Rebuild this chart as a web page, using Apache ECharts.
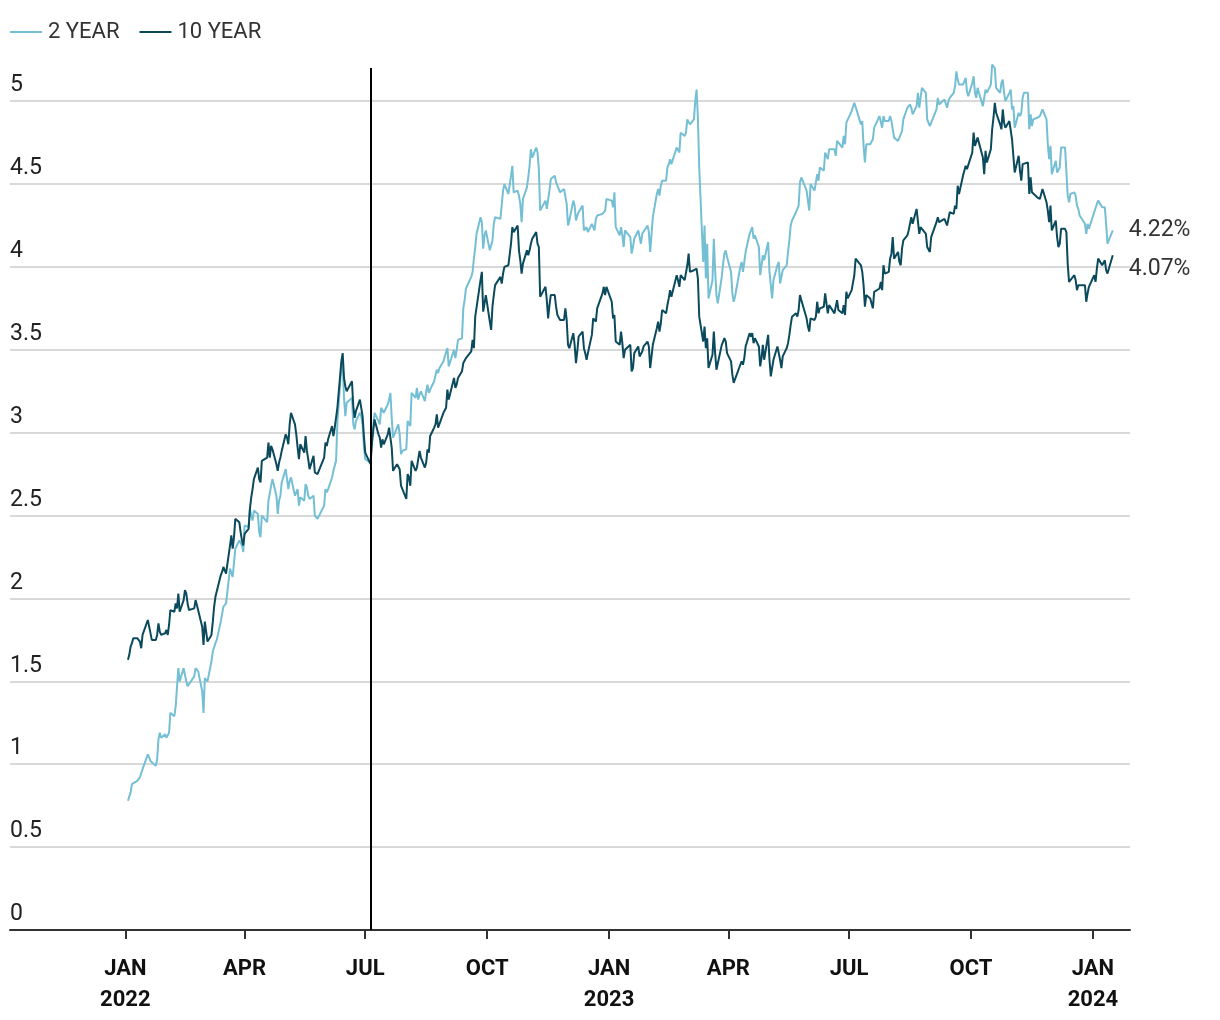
<!DOCTYPE html>
<html>
<head>
<meta charset="utf-8">
<script src="https://cdn.jsdelivr.net/npm/echarts@6/dist/echarts.min.js"></script>
<style>
html,body{margin:0;padding:0;background:#ffffff;}
#chart{width:1220px;height:1020px;}
</style>
</head>
<body>
<div id="chart"></div>
<script>
// ---------------- DATA ----------------
const seriesNames = ['2 YEAR', '10 YEAR'];

const months = [
  '2022-01','2022-02','2022-03','2022-04','2022-05','2022-06','2022-07','2022-08','2022-09','2022-10','2022-11','2022-12',
  '2023-01','2023-02','2023-03','2023-04','2023-05','2023-06','2023-07','2023-08','2023-09','2023-10','2023-11','2023-12',
  '2024-01'
];

const tradingDays = [
  [3,4,5,6,7,10,11,12,13,14,18,19,20,21,24,25,26,27,28,31],
  [1,2,3,4,7,8,9,10,11,14,15,16,17,18,22,23,24,25,28],
  [1,2,3,4,7,8,9,10,11,14,15,16,17,18,21,22,23,24,25,28,29,30,31],
  [1,4,5,6,7,8,11,12,13,14,18,19,20,21,22,25,26,27,28,29],
  [2,3,4,5,6,9,10,11,12,13,16,17,18,19,20,23,24,25,26,27,31],
  [1,2,3,6,7,8,9,10,13,14,15,16,17,21,22,23,24,27,28,29,30],
  [1,5,6,7,8,11,12,13,14,15,18,19,20,21,22,25,26,27,28,29],
  [1,2,3,4,5,8,9,10,11,12,15,16,17,18,19,22,23,24,25,26,29,30,31],
  [1,2,6,7,8,9,12,13,14,15,16,19,20,21,22,23,26,27,28,29,30],
  [3,4,5,6,7,11,12,13,14,17,18,19,20,21,24,25,26,27,28,31],
  [1,2,3,4,7,8,9,10,14,15,16,17,18,21,22,23,25,28,29,30],
  [1,2,5,6,7,8,9,12,13,14,15,16,19,20,21,22,23,27,28,29,30],
  [3,4,5,6,9,10,11,12,13,17,18,19,20,23,24,25,26,27,30,31],
  [1,2,3,6,7,8,9,10,13,14,15,16,17,21,22,23,24,27,28],
  [1,2,3,6,7,8,9,10,13,14,15,16,17,20,21,22,23,24,27,28,29,30,31],
  [3,4,5,6,10,11,12,13,14,17,18,19,20,21,24,25,26,27,28],
  [1,2,3,4,5,8,9,10,11,12,15,16,17,18,19,22,23,24,25,26,30,31],
  [1,2,5,6,7,8,9,12,13,14,15,16,20,21,22,23,26,27,28,29,30],
  [3,5,6,7,10,11,12,13,14,17,18,19,20,21,24,25,26,27,28,31],
  [1,2,3,4,7,8,9,10,11,14,15,16,17,18,21,22,23,24,25,28,29,30,31],
  [1,5,6,7,8,11,12,13,14,15,18,19,20,21,22,25,26,27,28,29],
  [2,3,4,5,6,10,11,12,13,16,17,18,19,20,23,24,25,26,27,30,31],
  [1,2,3,6,7,8,9,10,13,14,15,16,17,20,21,22,24,27,28,29,30],
  [1,4,5,6,7,8,11,12,13,14,15,18,19,20,21,22,26,27,28,29],
  [2,3,4,5,8,9,10,11,12,16]
];

const twoYear = [
  [0.78,0.77,0.83,0.88,0.87,0.90,0.90,0.92,0.91,0.97,1.06,1.04,1.02,1.01,0.99,1.03,1.15,1.19,1.16,1.18],
  [1.16,1.15,1.19,1.31,1.29,1.35,1.34,1.58,1.50,1.58,1.58,1.50,1.47,1.47,1.53,1.58,1.57,1.56,1.44],
  [1.31,1.52,1.52,1.50,1.62,1.68,1.69,1.73,1.75,1.86,1.85,1.95,1.94,1.97,2.18,2.17,2.13,2.14,2.30,2.35,2.35,2.32,2.28],
  [2.44,2.43,2.54,2.50,2.47,2.53,2.51,2.40,2.37,2.50,2.46,2.59,2.58,2.68,2.72,2.62,2.51,2.59,2.62,2.70],
  [2.78,2.78,2.66,2.71,2.73,2.62,2.63,2.66,2.56,2.61,2.59,2.69,2.67,2.62,2.60,2.62,2.50,2.50,2.48,2.47,2.56],
  [2.66,2.64,2.66,2.73,2.77,2.80,2.83,3.06,3.40,3.43,3.21,3.10,3.18,3.21,3.05,3.02,3.07,3.12,3.10,3.05,2.92],
  [2.84,2.82,2.97,3.03,3.12,3.07,3.05,3.15,3.14,3.12,3.17,3.20,3.24,3.09,2.97,3.03,3.05,2.99,2.87,2.89],
  [2.90,3.07,3.08,3.04,3.24,3.21,3.27,3.20,3.23,3.25,3.19,3.25,3.29,3.24,3.26,3.31,3.31,3.38,3.36,3.39,3.43,3.46,3.45],
  [3.51,3.40,3.50,3.45,3.50,3.56,3.57,3.75,3.80,3.87,3.87,3.94,3.97,4.05,4.12,4.20,4.30,4.27,4.11,4.19,4.22],
  [4.10,4.09,4.16,4.26,4.30,4.29,4.28,4.46,4.50,4.44,4.43,4.55,4.61,4.45,4.46,4.43,4.38,4.27,4.41,4.48],
  [4.54,4.61,4.71,4.66,4.72,4.69,4.59,4.34,4.40,4.35,4.36,4.46,4.53,4.55,4.51,4.49,4.45,4.47,4.48,4.38],
  [4.25,4.28,4.40,4.37,4.28,4.31,4.33,4.37,4.22,4.23,4.24,4.21,4.26,4.26,4.22,4.29,4.31,4.32,4.31,4.34,4.41],
  [4.40,4.36,4.45,4.24,4.19,4.24,4.19,4.12,4.22,4.18,4.08,4.12,4.17,4.22,4.18,4.14,4.20,4.21,4.25,4.21],
  [4.09,4.10,4.30,4.44,4.47,4.43,4.49,4.52,4.52,4.60,4.62,4.65,4.62,4.72,4.73,4.69,4.81,4.79,4.81],
  [4.89,4.89,4.86,4.89,5.00,5.07,4.90,4.60,4.03,4.25,3.93,4.14,3.81,3.92,4.17,3.98,3.83,3.78,3.94,4.02,4.08,4.10,4.06],
  [3.97,3.84,3.79,3.82,4.00,4.03,3.97,3.98,4.09,4.20,4.21,4.24,4.17,4.19,4.12,3.95,3.95,4.07,4.04],
  [4.15,3.97,3.96,3.81,3.92,4.01,4.03,3.90,3.90,3.98,4.01,4.09,4.16,4.25,4.28,4.33,4.32,4.37,4.51,4.54,4.46,4.40],
  [4.34,4.50,4.46,4.51,4.56,4.52,4.60,4.58,4.69,4.69,4.65,4.71,4.71,4.67,4.76,4.75,4.72,4.79,4.74,4.87,4.87],
  [4.94,4.99,4.99,4.94,4.86,4.88,4.73,4.63,4.74,4.74,4.75,4.77,4.84,4.85,4.91,4.90,4.84,4.91,4.88,4.88],
  [4.91,4.88,4.88,4.78,4.76,4.75,4.80,4.82,4.89,4.96,4.96,4.98,4.96,4.92,4.97,5.05,4.96,5.02,5.08,5.05,4.89,4.90,4.85],
  [4.87,4.95,5.02,4.98,4.98,5.01,5.01,4.96,5.00,5.02,5.05,5.09,5.18,5.13,5.10,5.10,5.12,5.14,5.06,5.03],
  [5.11,5.15,5.05,5.02,5.08,4.97,4.98,5.07,5.05,5.10,5.22,5.21,5.20,5.08,5.05,5.11,5.13,5.05,5.00,5.05,5.07],
  [4.95,4.97,4.84,4.93,4.91,4.93,5.02,5.05,5.05,4.83,4.92,4.85,4.89,4.90,4.89,4.91,4.95,4.89,4.74,4.65,4.73],
  [4.56,4.64,4.57,4.57,4.60,4.72,4.72,4.73,4.43,4.39,4.44,4.45,4.43,4.37,4.35,4.31,4.26,4.20,4.26,4.23],
  [4.33,4.33,4.38,4.40,4.36,4.37,4.36,4.26,4.14,4.22]
];

const tenYear = [
  [1.63,1.66,1.71,1.73,1.76,1.76,1.75,1.74,1.70,1.78,1.87,1.83,1.83,1.75,1.75,1.78,1.85,1.80,1.78,1.79],
  [1.81,1.78,1.84,1.93,1.92,1.97,1.94,2.03,1.92,1.99,2.05,2.03,1.97,1.93,1.94,1.99,1.96,1.97,1.83],
  [1.72,1.86,1.86,1.74,1.78,1.86,1.95,2.01,2.00,2.14,2.16,2.19,2.20,2.15,2.32,2.38,2.30,2.37,2.48,2.46,2.40,2.35,2.32],
  [2.39,2.42,2.54,2.61,2.66,2.72,2.79,2.72,2.70,2.83,2.85,2.94,2.85,2.92,2.90,2.81,2.77,2.82,2.85,2.89],
  [2.99,2.97,2.93,3.05,3.12,3.05,2.99,2.91,2.84,2.93,2.88,2.98,2.89,2.84,2.78,2.86,2.76,2.75,2.75,2.74,2.85],
  [2.94,2.92,2.96,3.04,2.98,3.03,3.04,3.15,3.43,3.48,3.33,3.28,3.25,3.31,3.16,3.09,3.13,3.20,3.20,3.10,2.98],
  [2.88,2.81,2.93,3.01,3.08,2.99,2.97,2.91,2.96,2.93,2.99,3.03,3.04,2.91,2.77,2.81,2.81,2.78,2.68,2.67],
  [2.60,2.75,2.73,2.68,2.83,2.77,2.79,2.78,2.89,2.85,2.79,2.82,2.90,2.88,2.98,3.03,3.05,3.11,3.03,3.04,3.12,3.11,3.15],
  [3.26,3.20,3.33,3.27,3.29,3.33,3.37,3.42,3.41,3.45,3.45,3.49,3.56,3.51,3.70,3.69,3.92,3.97,3.73,3.78,3.83],
  [3.67,3.62,3.76,3.83,3.89,3.94,3.90,3.96,4.00,4.01,4.00,4.14,4.24,4.21,4.25,4.10,4.04,3.96,4.02,4.10],
  [4.07,4.10,4.14,4.17,4.21,4.14,4.12,3.82,3.88,3.80,3.69,3.77,3.83,3.83,3.76,3.71,3.68,3.68,3.75,3.68],
  [3.53,3.51,3.60,3.53,3.42,3.49,3.58,3.61,3.51,3.48,3.44,3.48,3.59,3.69,3.68,3.67,3.75,3.84,3.88,3.83,3.88],
  [3.79,3.69,3.71,3.55,3.53,3.61,3.54,3.45,3.50,3.53,3.37,3.39,3.48,3.52,3.46,3.45,3.49,3.52,3.55,3.52],
  [3.39,3.40,3.53,3.63,3.67,3.61,3.66,3.74,3.72,3.77,3.81,3.86,3.82,3.95,3.92,3.88,3.95,3.92,3.92],
  [4.01,4.08,3.97,3.98,3.97,3.99,3.93,3.70,3.55,3.64,3.51,3.57,3.39,3.47,3.61,3.48,3.38,3.38,3.53,3.55,3.57,3.55,3.48],
  [3.43,3.35,3.30,3.31,3.41,3.43,3.41,3.45,3.52,3.60,3.58,3.60,3.54,3.57,3.52,3.40,3.45,3.53,3.44],
  [3.59,3.44,3.34,3.39,3.44,3.52,3.52,3.44,3.39,3.46,3.51,3.54,3.59,3.65,3.70,3.72,3.70,3.74,3.83,3.80,3.69,3.64],
  [3.61,3.69,3.68,3.70,3.79,3.72,3.75,3.76,3.84,3.83,3.72,3.77,3.72,3.72,3.80,3.74,3.72,3.77,3.71,3.85,3.81],
  [3.86,3.95,4.05,4.06,4.01,3.97,3.89,3.76,3.83,3.81,3.80,3.75,3.85,3.84,3.87,3.91,3.86,4.01,3.96,3.97],
  [4.05,4.08,4.18,4.05,4.09,4.03,4.01,4.11,4.16,4.19,4.22,4.26,4.30,4.26,4.35,4.34,4.20,4.24,4.25,4.20,4.12,4.12,4.09],
  [4.18,4.27,4.30,4.27,4.26,4.29,4.29,4.25,4.29,4.33,4.32,4.37,4.35,4.49,4.44,4.55,4.56,4.61,4.59,4.59],
  [4.69,4.81,4.73,4.72,4.78,4.66,4.56,4.70,4.63,4.71,4.83,4.90,4.99,4.93,4.86,4.83,4.95,4.87,4.84,4.88,4.88],
  [4.77,4.67,4.57,4.67,4.58,4.52,4.62,4.61,4.63,4.44,4.54,4.45,4.44,4.42,4.41,4.41,4.47,4.39,4.34,4.27,4.37],
  [4.22,4.28,4.18,4.12,4.14,4.23,4.23,4.21,4.02,3.91,3.91,3.95,3.92,3.86,3.89,3.90,3.89,3.79,3.84,3.88],
  [3.95,3.91,3.99,4.05,4.01,4.02,4.04,3.98,3.96,4.07]
];

const xTickDates = ['2022-01-01','2022-04-01','2022-07-01','2022-10-01','2023-01-01','2023-04-01','2023-07-01','2023-10-01','2024-01-01'];
const xTickLabels = ['JAN\n2022','APR','JUL','OCT','JAN\n2023','APR','JUL','OCT','JAN\n2024'];
const xRange = ['2021-10-06', '2024-01-29'];
const yRange = [0, 5.2];
const yStep = 0.5;
const markerDate = '2022-07-05';

// ---------------- BUILD ----------------
function toTs(s) {
  const p = s.split('-').map(Number);
  return new Date(p[0], p[1] - 1, p[2]).getTime();
}
function buildSeries(values) {
  const out = [];
  months.forEach(function (m, i) {
    tradingDays[i].forEach(function (d, j) {
      const v = values[i][j];
      if (v != null) out.push([toTs(m + '-' + String(d).padStart(2, '0')), v]);
    });
  });
  return out;
}
const tickTs = xTickDates.map(toTs);
function tickLabelFor(v) {
  let best = 0, bd = Infinity;
  tickTs.forEach(function (t, i) { const d = Math.abs(t - v); if (d < bd) { bd = d; best = i; } });
  return xTickLabels[best];
}

const FONT = 'Roboto';
const C2 = '#74bfd3';
const C10 = '#0a4a5c';

const chart = echarts.init(document.getElementById('chart'), null, { renderer: 'canvas' });
chart.setOption({
  animation: false,
  backgroundColor: '#ffffff',
  textStyle: { fontFamily: FONT },
  legend: {
    left: 10, top: 21, padding: 0,
    icon: 'rect',
    itemWidth: 32, itemHeight: 2, itemGap: 20,
    textStyle: { fontSize: 22, color: '#333333', fontFamily: FONT, padding: [0, 0, 0, 1] },
    data: seriesNames
  },
  grid: { left: 10, right: 90, top: 68, bottom: 90, containLabel: false, outerBoundsMode: 'none' },
  xAxis: {
    type: 'value',
    min: toTs(xRange[0]), max: toTs(xRange[1]),
    axisLine: { show: true, lineStyle: { color: '#333333', width: 2 } },
    axisTick: { show: true, customValues: tickTs, length: 9, lineStyle: { color: '#333333', width: 2 } },
    axisLabel: {
      customValues: tickTs,
      formatter: function (v) { return tickLabelFor(v); },
      fontFamily: FONT, fontWeight: 'bold', fontSize: 22, lineHeight: 31,
      color: '#111111', margin: 24, hideOverlap: false
    },
    splitLine: { show: false }
  },
  yAxis: {
    type: 'value',
    min: yRange[0], max: yRange[1], interval: yStep,
    axisLine: { show: false }, axisTick: { show: false },
    splitLine: { show: true, showMinLine: false, showMaxLine: false, lineStyle: { color: '#cccccc', width: 1.5 } },
    axisLabel: {
      inside: true, margin: 0, align: 'left', verticalAlign: 'bottom',
      padding: [0, 0, 4, 0],
      fontFamily: FONT, fontSize: 23, color: '#222222',
      showMaxLabel: false,
      formatter: function (v) { return v > 5 ? '' : String(v); }
    }
  },
  series: [
    {
      name: seriesNames[0], type: 'line', data: buildSeries(twoYear),
      showSymbol: false, symbol: 'none', clip: false,
      lineStyle: { color: C2, width: 2 }, itemStyle: { color: C2 },
      emphasis: { disabled: true },
      endLabel: {
        show: true, distance: 16, fontFamily: FONT, fontSize: 23, color: '#333333',
        formatter: function (p) { return p.value[1].toFixed(2) + '%'; }
      }
    },
    {
      name: seriesNames[1], type: 'line', data: buildSeries(tenYear),
      showSymbol: false, symbol: 'none', clip: false,
      lineStyle: { color: C10, width: 2 }, itemStyle: { color: C10 },
      emphasis: { disabled: true },
      endLabel: {
        show: true, distance: 16, offset: [0, 14], fontFamily: FONT, fontSize: 23, color: '#333333',
        formatter: function (p) { return p.value[1].toFixed(2) + '%'; }
      },
      markLine: {
        silent: true, symbol: ['none', 'none'], animation: false,
        label: { show: false },
        lineStyle: { color: '#000000', width: 2, type: 'solid' },
        data: [{ xAxis: toTs(markerDate) }]
      }
    }
  ]
});
</script>
</body>
</html>
